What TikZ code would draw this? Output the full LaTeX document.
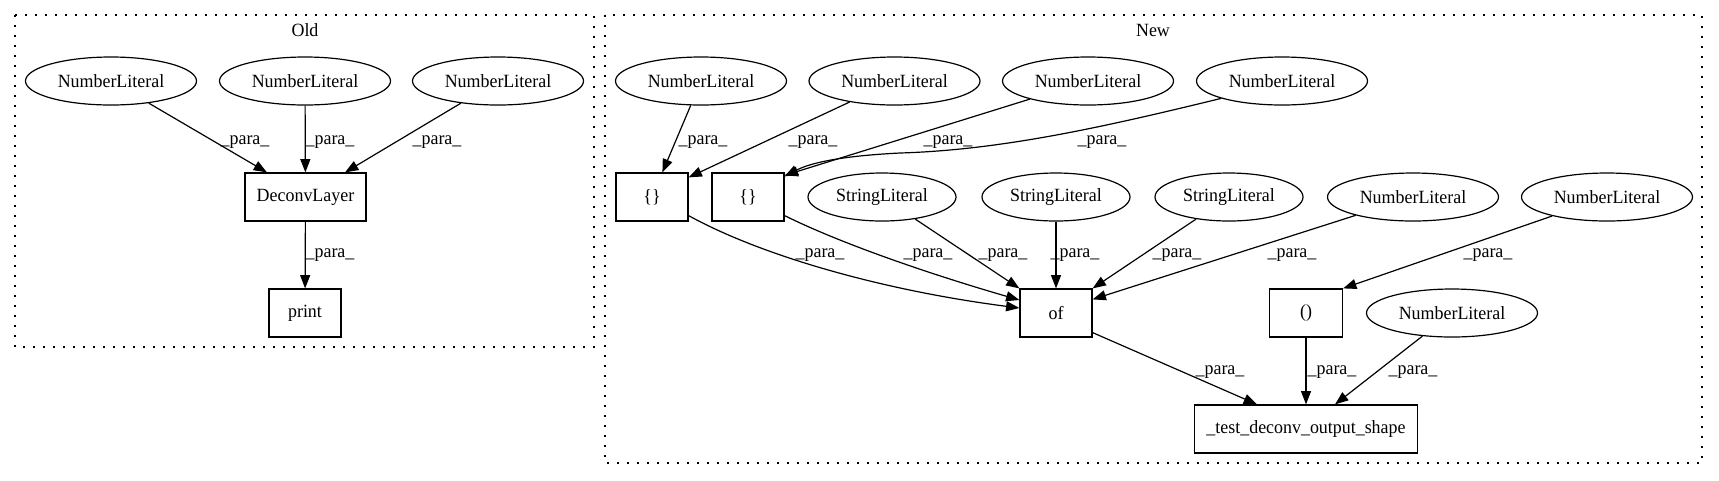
\documentclass[tikz,border=0pt]{standalone}
\usepackage{fontspec}
\setmainfont{Liberation Serif}[FakeStretch=0.96]
\usetikzlibrary{arrows.meta,calc,shapes.geometric}
\begin{document}
\begin{tikzpicture}[x=0.75pt,y=-0.75pt,
  font=\fontsize{14}{16}\selectfont,
  ell/.style={draw, ellipse, minimum width=128.25pt, minimum height=36pt, inner sep=0pt, line width=0.9pt},
  sell/.style={ell, minimum width=111pt},
  box/.style={draw, rectangle, minimum height=36pt, inner sep=0pt, line width=0.9pt},
  cluster/.style={draw, line width=1pt, dash pattern=on 1.4pt off 6.1pt},
  edge/.style={draw, line width=0.9pt, -{Triangle[length=10pt,width=7.5pt]}},
  lbl/.style={inner sep=0pt}]
\useasboundingbox (0,0) rectangle (1719,480);

% clusters
\draw[cluster] (15,15) rectangle (594,347);
\node[lbl] (oldlbl) at (305,30) {Old};
\draw[cluster] (605,15) rectangle (1702,463);
\node[lbl] (newlbl) at (1153,30) {New};

% Old nodes
\node[ell] (nl1) at (111,81) {NumberLiteral};
\node[ell] (nl2) at (305,81) {NumberLiteral};
\node[ell] (nl3) at (498,81) {NumberLiteral};
\node[box, minimum width=90.75pt] (dl) at (305.5,197) {DeconvLayer};
\node[box, minimum width=54pt] (pr) at (305,313) {print};

\draw[edge] (nl1) -- ($(dl.north)+(-38.5,0)$);
\draw[edge] (nl2) -- (dl);
\draw[edge] (nl3) -- ($(dl.north)+(39.5,0)$);
\draw[edge] (dl) -- (pr);
\node[lbl] (l1) at (245,142) {\_para\_};
\node[lbl] (l2) at (330,142) {\_para\_};
\node[lbl] (l3) at (437,142) {\_para\_};
\node[lbl] (l4) at (330,255) {\_para\_};

% New nodes
\node[ell] (nla) at (701,81) {NumberLiteral};
\node[ell] (nlb) at (894.5,81) {NumberLiteral};
\node[ell] (nlc) at (1088,81) {NumberLiteral};
\node[ell] (nld) at (1282,81) {NumberLiteral};
\node[box, minimum width=54pt] (b1) at (652,197) {\{\}};
\node[box, minimum width=54pt] (b2) at (748,197) {\{\}};
\node[sell] (sl1) at (882,197) {StringLiteral};
\node[sell] (sl2) at (1056,197) {StringLiteral};
\node[sell] (sl3) at (1229,197) {StringLiteral};
\node[ell] (nle) at (1413,197) {NumberLiteral};
\node[ell] (nlf) at (1607,197) {NumberLiteral};
\node[box, minimum width=54pt] (of) at (1056,313) {of};
\node[box, minimum width=54.75pt] (par) at (1306,313) {()};
\node[ell] (nlg) at (1452,313) {NumberLiteral};
\node[box, minimum width=167.25pt] (test) at (1306,429) {\_test\_deconv\_output\_shape};

\draw[edge] (nla) -- (b1);
\draw[edge] (nlb) -- ($(b1.north east)+(0,5)$);
\draw[edge] (nlc) -- ($(b2.north east)+(0,3)$);
\draw[edge] (nld.south west) .. controls (1100,128) and (1000,150) .. (900,153) .. controls (840,156) and (810,163) .. ($(b2.north east)+(0,4)$);
\draw[edge] ($(b1.south east)+(0,-6)$) .. controls (760,255) and (880,290) .. ($(of.west)+(0,-5)$);
\draw[edge] ($(b2.south east)+(0,-6)$) .. controls (850,248) and (950,280) .. ($(of.west)+(0,-13)$);
\draw[edge] (sl1) -- (of.north west);
\draw[edge] (sl2) -- (of);
\draw[edge] (sl3) -- (of.north east);
\draw[edge] (nle) -- ($(of.north east)+(0,11)$);
\draw[edge] (nlf) -- (par.north east);
\draw[edge] ($(of.south east)+(0,-5)$) -- ($(test.north)+(-49,0)$);
\draw[edge] (par) -- (test);
\draw[edge] (nlg) -- ($(test.north)+(29,0)$);

\node[lbl] (m1) at (703,142) {\_para\_};
\node[lbl] (m2) at (813,142) {\_para\_};
\node[lbl] (m3) at (948,142) {\_para\_};
\node[lbl] (m4) at (1102,142) {\_para\_};
\node[lbl] (m5) at (820,255) {\_para\_};
\node[lbl] (m6) at (928,255) {\_para\_};
\node[lbl] (m7) at (1003,255) {\_para\_};
\node[lbl] (m8) at (1075,255) {\_para\_};
\node[lbl] (m9) at (1177,255) {\_para\_};
\node[lbl] (m10) at (1292,255) {\_para\_};
\node[lbl] (m11) at (1488,255) {\_para\_};
\node[lbl] (m12) at (1220,372) {\_para\_};
\node[lbl] (m13) at (1332,372) {\_para\_};
\node[lbl] (m14) at (1413,372) {\_para\_};
\end{tikzpicture}
\end{document}
